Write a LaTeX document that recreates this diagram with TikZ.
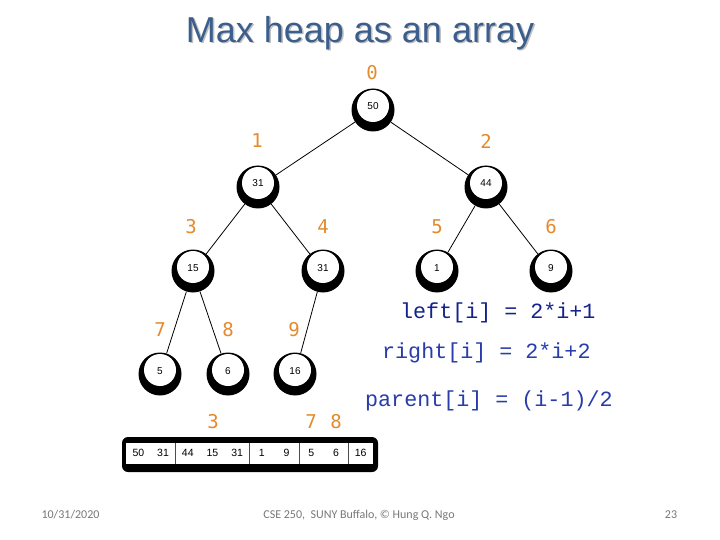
\documentclass[tikz,border=0pt]{standalone}
\usepackage{fontspec}
\setmainfont{Liberation Sans}
\newfontfamily\monofont{Liberation Mono}
\newfontfamily\idxfont{DejaVu Sans Mono}
\newfontfamily\footfont{Carlito}
\definecolor{idxorange}{RGB}{228,139,45}
\definecolor{titleblue}{RGB}{59,94,140}
\definecolor{codeblue}{RGB}{40,60,170}
\definecolor{codedark}{RGB}{20,35,140}
\definecolor{footgray}{RGB}{120,120,120}
\begin{document}
\begin{tikzpicture}[x=1pt,y=-1pt,
  hn/.style={circle, fill=black, minimum size=43pt, inner sep=0pt,
    text height=7pt, text depth=7pt, font=\fontsize{10}{12}\selectfont,
    path picture={\fill[white] ([yshift=4pt]path picture bounding box.center) circle (16pt);}},
  idx/.style={text=idxorange, inner sep=0pt, font=\idxfont\fontsize{19}{22}\selectfont},
  link/.style={draw=black, line width=0.8pt},
  cell/.style={minimum width=24.7pt, minimum height=21pt, inner sep=0pt, font=\fontsize{10.5}{12}\selectfont},
  code/.style={anchor=west, inner sep=0pt, text=codeblue, font=\monofont\fontsize{21.7}{24}\selectfont},
  foot/.style={text=footgray, inner sep=0pt, font=\footfont\fontsize{12}{14}\selectfont}]
\useasboundingbox[fill=white] (0,0) rectangle (720,540);

% title
\node[text=black!25, font=\fontsize{36}{40}\selectfont] (titleshadow) at (361.5,34.5) {Max heap as an array};
\node[text=titleblue, font=\fontsize{36}{40}\selectfont] (title) at (360,33) {Max heap as an array};

% heap nodes
\node[hn] (n0) at (373,110) {50};
\node[hn] (n1) at (258,187) {31};
\node[hn] (n2) at (486,187) {44};
\node[hn] (n3) at (193,271) {15};
\node[hn] (n4) at (323,271) {31};
\node[hn] (n5) at (437,271) {1};
\node[hn] (n6) at (551,271) {9};
\node[hn] (n7) at (160,374) {5};
\node[hn] (n8) at (228,374) {6};
\node[hn] (n9) at (295,374) {16};

% edges
\draw[link] (n0) -- (n1);
\draw[link] (n0) -- (n2);
\draw[link] (n1) -- (n3);
\draw[link] (n1) -- (n4);
\draw[link] (n2) -- (n5);
\draw[link] (n2) -- (n6);
\draw[link] (n3) -- (n7);
\draw[link] (n3) -- (n8);
\draw[link] (n4) -- (n9);

% index labels
\node[idx] (i0) at (372,73) {0};
\node[idx] (i1) at (257,141) {1};
\node[idx] (i2) at (486,141) {2};
\node[idx] (i3) at (191,227) {3};
\node[idx] (i4) at (323,227) {4};
\node[idx] (i5) at (437,227) {5};
\node[idx] (i6) at (551,227) {6};
\node[idx] (i7) at (160,330) {7};
\node[idx] (i8) at (228,330) {8};
\node[idx] (i9) at (294,330) {9};
\node[idx] (a3) at (213,422) {3};
\node[idx] (a7) at (311,422) {7};
\node[idx] (a8) at (336,422) {8};

% array
\fill[black, rounded corners=6pt] (122,437) rectangle (378,472);
\fill[white] (126,443) rectangle (373,464);
\foreach \v [count=\k from 0] in {50,31,44,15,31,1,9,5,6,16} {
  \node[cell] (c\k) at ({126+24.7*(\k+0.5)},453) {\v};
}
\foreach \k in {2,5,7,9} {
  \draw[black!70, line width=0.6pt] ({126+24.7*\k},443) -- ({126+24.7*\k},464);
}

% formulas
\node[code, text=codedark] (fl) at (400,313) {left[i] = 2*i+1};
\node[code] (fr) at (382,353) {right[i] = 2*i+2};
\node[code] (fp) at (365,401) {parent[i] = (i-1)/2};

% footer
\node[foot] (fdate) at (70.5,515) {10/31/2020};
\node[foot] (fmid) at (359,515) {CSE 250, \ SUNY Buffalo, © Hung Q. Ngo};
\node[foot] (fpage) at (671,515) {23};
\end{tikzpicture}
\end{document}
